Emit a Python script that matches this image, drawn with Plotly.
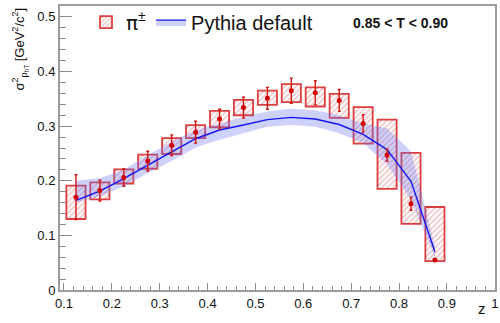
import plotly.graph_objects as go

# z bin centres
z = [0.125, 0.175, 0.225, 0.275, 0.325, 0.375, 0.425, 0.475,
     0.525, 0.575, 0.625, 0.675, 0.725, 0.775, 0.825, 0.875]

# measured pi+- values with statistical errors
pi_val = [0.170, 0.182, 0.206, 0.236, 0.265, 0.289, 0.313, 0.334,
          0.351, 0.365, 0.361, 0.347, 0.305, 0.247, 0.158, 0.055]
pi_stat = [0.041, 0.019, 0.016, 0.018, 0.019, 0.020, 0.018, 0.019,
           0.020, 0.023, 0.022, 0.020, 0.016, 0.011, 0.012, 0.002]

# systematic boxes (lower / upper edge)
sys_lo = [0.130, 0.166, 0.195, 0.222, 0.249, 0.278, 0.298, 0.320,
          0.339, 0.344, 0.336, 0.315, 0.268, 0.185, 0.121, 0.053]
sys_hi = [0.191, 0.197, 0.221, 0.248, 0.278, 0.302, 0.328, 0.348,
          0.365, 0.377, 0.371, 0.359, 0.335, 0.312, 0.251, 0.152]

# Pythia default prediction: central curve and uncertainty band
py_val = [0.164, 0.181, 0.204, 0.229, 0.253, 0.277, 0.293, 0.302,
          0.312, 0.316, 0.313, 0.303, 0.285, 0.257, 0.199, 0.070]
py_lo = [0.160, 0.171, 0.190, 0.214, 0.236, 0.261, 0.275, 0.287,
         0.299, 0.302, 0.299, 0.287, 0.269, 0.230, 0.165, 0.060]
py_hi = [0.200, 0.205, 0.220, 0.247, 0.272, 0.293, 0.305, 0.317,
         0.327, 0.332, 0.329, 0.320, 0.305, 0.296, 0.254, 0.080]

box_width = 0.04
RED = "rgba(215,30,30,0.85)"
BAND = "rgba(105,115,240,0.33)"
BLUE = "#1515f5"
GRAY = "#9c9c9c"
FONT = "Liberation Sans, Arial, Helvetica, sans-serif"

fig = go.Figure()

# systematic boxes (hatched)
fig.add_trace(go.Bar(
    x=z,
    y=[h - l for h, l in zip(sys_hi, sys_lo)],
    base=sys_lo,
    width=box_width,
    name="<span style='font-family:DejaVu Sans'>π</span><sup>±</sup>",
    marker=dict(
        color="rgba(255,255,255,0)",
        line=dict(color=RED, width=1.8),
        pattern=dict(shape="/", fgcolor="rgba(220,60,60,0.75)",
                     bgcolor="rgba(255,255,255,0)", size=4, solidity=0.32),
    ),
    showlegend=True,
))

# Pythia band: lower edge, central line (fills to lower), upper edge (fills to central)
fig.add_trace(go.Scatter(
    x=z, y=py_lo, mode="lines", line=dict(width=0, color=BAND),
    showlegend=False, hoverinfo="skip",
))
fig.add_trace(go.Scatter(
    x=z, y=py_val, mode="lines", fill="tonexty", fillcolor=BAND,
    line=dict(color=BLUE, width=1.4), name="Pythia default",
))
fig.add_trace(go.Scatter(
    x=z, y=py_hi, mode="lines", fill="tonexty", fillcolor=BAND,
    line=dict(width=0, color=BAND), showlegend=False, hoverinfo="skip",
))

# data points with statistical errors
fig.add_trace(go.Scatter(
    x=z, y=pi_val, mode="markers",
    marker=dict(color="#d00000", size=5),
    error_y=dict(type="data", array=pi_stat, color="#d01515",
                 thickness=1.4, width=1.5),
    showlegend=False,
))

axis_common = dict(
    showgrid=False, zeroline=False,
    showline=True, linecolor=GRAY, linewidth=2, mirror=True,
    ticks="inside", tickcolor="#8c8c8c", tickwidth=1,
    tickfont=dict(family=FONT, size=13, color="#111"),
)

fig.update_xaxes(
    range=[0.0917, 1.0005], tick0=0.1, dtick=0.1, ticklen=7,
    minor=dict(ticks="inside", dtick=0.02, tick0=0.1, ticklen=4,
               tickcolor="#8c8c8c", tickwidth=1),
    **axis_common,
)
fig.update_yaxes(
    range=[0, 0.52], tick0=0, dtick=0.1, ticklen=12,
    minor=dict(ticks="inside", dtick=0.02, tick0=0, ticklen=6,
               tickcolor="#8c8c8c", tickwidth=1),
    **axis_common,
)

fig.add_annotation(
    text="<b>0.85 &lt; T &lt; 0.90</b>", xref="paper", yref="paper",
    x=(400 - 60) / 435, y=(290 - 20.5) / 287, xanchor="center", yanchor="middle",
    showarrow=False, font=dict(family=FONT, size=14, color="#111"),
)
fig.add_annotation(
    text="z", xref="paper", yref="paper",
    x=(482 - 60) / 435, y=(290 - 309) / 287, xanchor="center", yanchor="middle",
    showarrow=False, font=dict(family=FONT, size=15, color="#111"),
)
fig.add_annotation(
    text="σ<sup>2</sup><sub>p<sub>hT</sub></sub> [GeV<sup>2</sup>/c<sup>2</sup>]",
    xref="paper", yref="paper", textangle=-90,
    x=(20 - 60) / 435, y=1.0, xanchor="center", yanchor="top",
    showarrow=False, font=dict(family=FONT, size=13, color="#111"),
)

fig.update_layout(
    width=500, height=323,
    margin=dict(l=60, r=5, t=3, b=33),
    paper_bgcolor="white", plot_bgcolor="white",
    barmode="overlay",
    font=dict(family=FONT, color="#111"),
    legend=dict(
        orientation="h", x=(86 - 60) / 435, y=1.012, xanchor="left", yanchor="top",
        font=dict(family=FONT, size=20, color="#111"),
        bgcolor="rgba(0,0,0,0)", itemwidth=30, traceorder="normal",
    ),
)

fig.write_html("out.html")
